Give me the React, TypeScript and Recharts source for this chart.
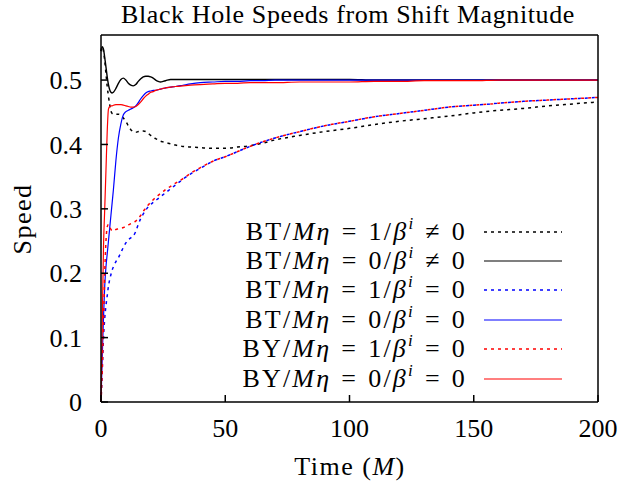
import {LineChart, Line, XAxis, YAxis} from "recharts";

// time samples (M) shared by all six curves
const times = [
  0, 0.5, 1, 1.5, 2, 2.5, 3, 3.5, 4, 4.5, 5, 6, 7, 8, 9, 10, 11, 12, 13, 14,
  15, 16, 17, 18, 19, 20, 21, 22, 23, 24, 25, 26, 28, 30, 33, 36, 40, 45, 50,
  55, 60, 65, 70, 80, 90, 100, 110, 120, 130, 140, 150, 160, 170, 180, 190, 200,
];

// BT, eta=1, beta != 0
const bt1Shift = [
  0.545, 0.552, 0.545, 0.53, 0.51, 0.49, 0.475, 0.462, 0.452, 0.448, 0.447,
  0.447, 0.447, 0.445, 0.441, 0.436, 0.429, 0.423, 0.42, 0.419, 0.42, 0.421,
  0.421, 0.42, 0.417, 0.414, 0.411, 0.409, 0.407, 0.405, 0.404, 0.403, 0.401,
  0.399, 0.397, 0.396, 0.395, 0.394, 0.394, 0.396, 0.398, 0.402, 0.407, 0.414,
  0.42, 0.425, 0.431, 0.436, 0.44, 0.444, 0.449, 0.453, 0.456, 0.46, 0.463,
  0.466,
];

// BT, eta=0, beta != 0
const bt0Shift = [
  0.545, 0.552, 0.548, 0.535, 0.52, 0.505, 0.493, 0.485, 0.481, 0.48, 0.481,
  0.487, 0.495, 0.501, 0.503, 0.5, 0.495, 0.492, 0.491, 0.493, 0.498, 0.502,
  0.505, 0.506, 0.506, 0.505, 0.503, 0.5, 0.498, 0.497, 0.498, 0.499, 0.501,
  0.501, 0.501, 0.501, 0.501, 0.501, 0.501, 0.501, 0.501, 0.501, 0.501, 0.501,
  0.501, 0.501, 0.5, 0.5, 0.5, 0.5, 0.5, 0.5, 0.5, 0.5, 0.5, 0.5,
];

// BT, eta=1, beta = 0
const bt1NoShift = [
  0, 0.05, 0.1, 0.13, 0.15, 0.165, 0.18, 0.19, 0.198, 0.205, 0.21, 0.218,
  0.224, 0.232, 0.24, 0.247, 0.252, 0.255, 0.258, 0.265, 0.276, 0.285, 0.292,
  0.298, 0.303, 0.307, 0.31, 0.313, 0.316, 0.319, 0.322, 0.325, 0.331, 0.337,
  0.346, 0.354, 0.363, 0.374, 0.381, 0.389, 0.397, 0.404, 0.41, 0.42, 0.429,
  0.436, 0.443, 0.448, 0.453, 0.458, 0.461, 0.464, 0.467, 0.469, 0.471, 0.473,
];

// BT, eta=0, beta = 0
const bt0NoShift = [
  0, 0.07, 0.13, 0.18, 0.21, 0.23, 0.25, 0.27, 0.29, 0.31, 0.33, 0.375, 0.41,
  0.432, 0.446, 0.451, 0.453, 0.455, 0.457, 0.46, 0.465, 0.471, 0.476, 0.48,
  0.482, 0.483, 0.484, 0.484, 0.485, 0.486, 0.487, 0.488, 0.489, 0.49, 0.492,
  0.494, 0.496, 0.497, 0.498, 0.498, 0.499, 0.499, 0.5, 0.5, 0.5, 0.5, 0.5,
  0.5, 0.5, 0.5, 0.5, 0.5, 0.5, 0.5, 0.5, 0.5,
];

// BY, eta=1, beta = 0
const by1NoShift = [
  0, 0.05, 0.12, 0.2, 0.25, 0.272, 0.276, 0.272, 0.268, 0.266, 0.266, 0.268,
  0.269, 0.27, 0.271, 0.273, 0.275, 0.277, 0.279, 0.281, 0.285, 0.29, 0.296,
  0.301, 0.306, 0.31, 0.314, 0.318, 0.321, 0.324, 0.327, 0.33, 0.335, 0.34,
  0.347, 0.355, 0.364, 0.374, 0.381, 0.389, 0.397, 0.404, 0.41, 0.42, 0.429,
  0.436, 0.443, 0.448, 0.453, 0.458, 0.461, 0.464, 0.467, 0.469, 0.471, 0.473,
];

// BY, eta=0, beta = 0
const by0NoShift = [
  0, 0.12, 0.24, 0.3, 0.36, 0.42, 0.455, 0.459, 0.46, 0.46, 0.461, 0.462,
  0.462, 0.462, 0.461, 0.46, 0.459, 0.458, 0.458, 0.459, 0.462, 0.466, 0.471,
  0.475, 0.478, 0.481, 0.482, 0.484, 0.485, 0.486, 0.487, 0.488, 0.489, 0.49,
  0.491, 0.492, 0.493, 0.494, 0.495, 0.495, 0.496, 0.496, 0.496, 0.497, 0.497,
  0.497, 0.498, 0.498, 0.499, 0.499, 0.499, 0.5, 0.5, 0.5, 0.5, 0.5,
];

const xTicks = [0, 50, 100, 150, 200];
const yTicks = [0, 0.1, 0.2, 0.3, 0.4, 0.5];

type Series = {
  key: string;
  code: string;
  eta: string;
  rel: string;
  color: string;
  dash?: string;
  width: number;
};

const series: Series[] = [
  {key: "bt1Shift", code: "BT", eta: "1", rel: "≠", color: "#000000", dash: "3 4", width: 1.5},
  {key: "bt0Shift", code: "BT", eta: "0", rel: "≠", color: "#000000", width: 1.4},
  {key: "bt1NoShift", code: "BT", eta: "1", rel: "=", color: "#0000ff", dash: "3 4", width: 1.5},
  {key: "bt0NoShift", code: "BT", eta: "0", rel: "=", color: "#0000ff", width: 1.2},
  {key: "by1NoShift", code: "BY", eta: "1", rel: "=", color: "#ff0000", dash: "3 4", width: 1.5},
  {key: "by0NoShift", code: "BY", eta: "0", rel: "=", color: "#ff0000", width: 1.2},
];

const data = times.map((t, i) => ({
  t,
  bt1Shift: bt1Shift[i],
  bt0Shift: bt0Shift[i],
  bt1NoShift: bt1NoShift[i],
  bt0NoShift: bt0NoShift[i],
  by1NoShift: by1NoShift[i],
  by0NoShift: by0NoShift[i],
}));

const FONT = "'Liberation Serif', 'DejaVu Serif', serif";
const tickFont = {fill: "#000", fontSize: 26, fontFamily: FONT};

const rel = {margin: "0 10px", display: "inline-block"};

function Label({s}: {s: Series}) {
  return (
    <span style={{letterSpacing: 2.2}}>
      {s.code}/<i>M</i>
      <i>η</i>
      <span style={rel}>=</span>
      {s.eta}/<i>β</i>
      <sup style={{fontSize: 17, fontStyle: "italic", verticalAlign: 0, position: "relative", top: -11}}>i</sup>
      <span style={rel}>{s.rel}</span>0
    </span>
  );
}

export default function App() {
  return (
    <div style={{position: "fixed", left: 0, top: 0, width: 622, height: 487, background: "#fff"}}>
      <LineChart
        width={622}
        height={487}
        data={data}
        margin={{top: 0, right: 0, bottom: 0, left: 0}}
      >
        <XAxis
          dataKey="t"
          type="number"
          domain={[0, 200]}
          ticks={xTicks}
          tickSize={-7}
          tickMargin={24}
          height={85}
          stroke="#000"
          strokeWidth={1.5}
          tick={tickFont}
        />
        <XAxis
          xAxisId="top"
          orientation="top"
          dataKey="t"
          type="number"
          domain={[0, 200]}
          ticks={xTicks}
          tickSize={-7}
          height={35}
          stroke="#000"
          strokeWidth={1.5}
          tick={false}
        />
        <YAxis
          type="number"
          domain={[0, 0.57]}
          ticks={yTicks}
          tickSize={-7}
          tickMargin={26}
          width={101}
          stroke="#000"
          strokeWidth={1.5}
          tick={tickFont}
          tickFormatter={(v: number) => String(v)}
        />
        <YAxis
          yAxisId="right"
          orientation="right"
          type="number"
          domain={[0, 0.57]}
          ticks={yTicks}
          tickSize={-7}
          width={24}
          stroke="#000"
          strokeWidth={1.5}
          tick={false}
        />
        {series.map((s) => (
          <Line
            key={s.key}
            dataKey={s.key}
            type="monotone"
            stroke={s.color}
            strokeWidth={s.width}
            strokeDasharray={s.dash}
            dot={false}
            isAnimationActive={false}
          />
        ))}
      </LineChart>

      <div
        style={{
          position: "absolute",
          left: 348,
          top: 0,
          transform: "translateX(-50%)",
          whiteSpace: "nowrap",
          fontFamily: FONT,
          fontSize: 26,
          lineHeight: "30px",
          letterSpacing: 0.6,
        }}
      >
        Black Hole Speeds from Shift Magnitude
      </div>

      <div
        style={{
          position: "absolute",
          left: 23,
          top: 219,
          transform: "translate(-50%, -50%) rotate(-90deg)",
          fontFamily: FONT,
          fontSize: 26,
          letterSpacing: 1.5,
          whiteSpace: "nowrap",
        }}
      >
        Speed
      </div>

      <div
        style={{
          position: "absolute",
          left: 350,
          top: 467,
          transform: "translate(-50%, -50%)",
          fontFamily: FONT,
          fontSize: 26,
          letterSpacing: 1.5,
          whiteSpace: "nowrap",
        }}
      >
        Time (<i>M</i>)
      </div>

      <div style={{position: "absolute", left: 190, top: 217, fontFamily: FONT, fontSize: 26}}>
        {series.map((s) => (
          <div key={s.key} style={{display: "flex", alignItems: "center", height: 29.4}}>
            <div style={{width: 277, textAlign: "right", whiteSpace: "nowrap"}}>
              <Label s={s} />
            </div>
            <svg width={80} height={10} style={{marginLeft: 17}}>
              <line
                x1={0}
                y1={5}
                x2={78}
                y2={5}
                stroke={s.color}
                strokeWidth={s.dash ? 1.3 : 1.2}
                strokeDasharray={s.dash}
              />
            </svg>
          </div>
        ))}
      </div>
    </div>
  );
}
